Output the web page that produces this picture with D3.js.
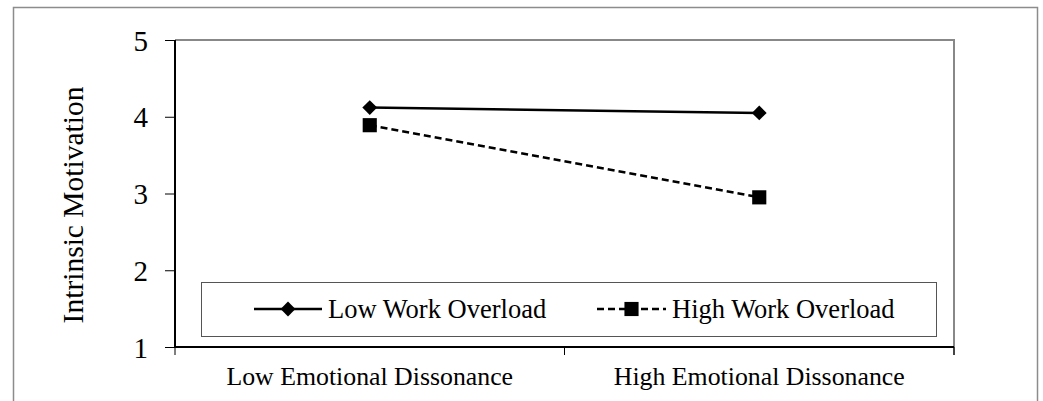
<!DOCTYPE html>
<html>
<head>
<meta charset="utf-8">
<script src="https://cdn.jsdelivr.net/npm/d3@7"></script>
<style>
  html, body { margin: 0; padding: 0; background: #fff; }
  svg { display: block; font-family: "Liberation Serif", "Times New Roman", serif; }
</style>
</head>
<body>
<svg id="chart" width="1043" height="401"></svg>
<script>
// Categories on the x axis
const categories = ["Low Emotional Dissonance", "High Emotional Dissonance"];
// Series values (intrinsic motivation means)
const lowOverload = [4.12, 4.05];
const highOverload = [3.89, 2.95];
const seriesNames = ["Low Work Overload", "High Work Overload"];
// Y axis ticks
const yTicks = [1, 2, 3, 4, 5];
const yTitle = "Intrinsic Motivation";

const svg = d3.select("#chart");
const plot = { left: 175, right: 954, top: 40, bottom: 347 };

// outer frame
svg.append("rect")
  .attr("x", 13.5).attr("y", 7.5)
  .attr("width", 1024).attr("height", 420)
  .attr("fill", "none").attr("stroke", "#8c8c8c").attr("stroke-width", 1.5);

const x = d3.scaleBand().domain(categories).range([plot.left, plot.right]).padding(0);
const y = d3.scaleLinear().domain([1, 5]).range([plot.bottom, plot.top]);

// top and right borders of the plot area
svg.append("path")
  .attr("d", `M${plot.left},${plot.top}H${plot.right}V${plot.bottom + 8}`)
  .attr("fill", "none").attr("stroke", "#888").attr("stroke-width", 2);

// y axis
const yAxis = svg.append("g")
  .attr("transform", `translate(${plot.left},0)`)
  .call(d3.axisLeft(y).tickValues(yTicks).tickSize(10).tickPadding(17).tickFormat(d3.format("d")));
yAxis.select(".domain").attr("stroke", "#000").attr("stroke-width", 2)
  .attr("d", `M0,${plot.top}V${plot.bottom}`);
yAxis.selectAll(".tick line").attr("stroke", "#000").attr("stroke-width", 1);
yAxis.selectAll(".tick text")
  .attr("font-family", "Liberation Serif").attr("font-size", 29).attr("fill", "#000")
  .attr("dy", "0.35em");

// x axis
const xAxis = svg.append("g")
  .attr("transform", `translate(0,${plot.bottom})`)
  .call(d3.axisBottom(x).tickSize(0).tickPadding(20));
xAxis.select(".domain").attr("stroke", "#000").attr("stroke-width", 2)
  .attr("d", `M${plot.left},0H${plot.right}`);
xAxis.selectAll(".tick text")
  .attr("font-family", "Liberation Serif").attr("font-size", 25.8).attr("fill", "#000");

// category boundary ticks below the x axis
const bounds = [plot.left, plot.left + x.bandwidth(), plot.right];
svg.append("g").selectAll("line").data(bounds).join("line")
  .attr("x1", d => d).attr("x2", d => d)
  .attr("y1", plot.bottom).attr("y2", plot.bottom + 8)
  .attr("stroke", "#000").attr("stroke-width", 1);

// y axis title
svg.append("text")
  .attr("transform", `translate(83,205) rotate(-90)`)
  .attr("text-anchor", "middle")
  .attr("font-size", 29.5).attr("fill", "#000")
  .text(yTitle);

const cx = d => x(d) + x.bandwidth() / 2;
const line = d3.line().x(d => cx(d.c)).y(d => y(d.v));
const pts = vals => categories.map((c, i) => ({ c, v: vals[i] }));

const diamond = d3.symbol().type(d3.symbolDiamond2).size(140);
const square = d3.symbol().type(d3.symbolSquare).size(200);

// Low work overload: solid line with diamonds
svg.append("path").datum(pts(lowOverload))
  .attr("d", line).attr("fill", "none").attr("stroke", "#000").attr("stroke-width", 2.5);
svg.append("g").selectAll("path").data(pts(lowOverload)).join("path")
  .attr("transform", d => `translate(${cx(d.c)},${y(d.v)})`)
  .attr("d", diamond).attr("fill", "#000");

// High work overload: dashed line with squares
svg.append("path").datum(pts(highOverload))
  .attr("d", line).attr("fill", "none").attr("stroke", "#000").attr("stroke-width", 2.5)
  .attr("stroke-dasharray", "7,4");
svg.append("g").selectAll("path").data(pts(highOverload)).join("path")
  .attr("transform", d => `translate(${cx(d.c)},${y(d.v)})`)
  .attr("d", square).attr("fill", "#000");

// legend
const lg = svg.append("g");
lg.append("rect")
  .attr("x", 201.5).attr("y", 282.5).attr("width", 735).attr("height", 54)
  .attr("fill", "#fff").attr("stroke", "#555").attr("stroke-width", 1);

const legendItems = [
  { name: seriesNames[0], x0: 254, x1: 322, dash: null, sym: diamond },
  { name: seriesNames[1], x0: 597, x1: 666, dash: "7,4", sym: square }
];
const ly = 309;
legendItems.forEach(it => {
  lg.append("line")
    .attr("x1", it.x0).attr("x2", it.x1).attr("y1", ly).attr("y2", ly)
    .attr("stroke", "#000").attr("stroke-width", 2.5)
    .attr("stroke-dasharray", it.dash);
  lg.append("path")
    .attr("transform", `translate(${(it.x0 + it.x1) / 2},${ly})`)
    .attr("d", it.sym).attr("fill", "#000");
  lg.append("text")
    .attr("x", it.x1 + 6).attr("y", ly + 9)
    .attr("font-size", 26.5).attr("fill", "#000")
    .text(it.name);
});
</script>
</body>
</html>
